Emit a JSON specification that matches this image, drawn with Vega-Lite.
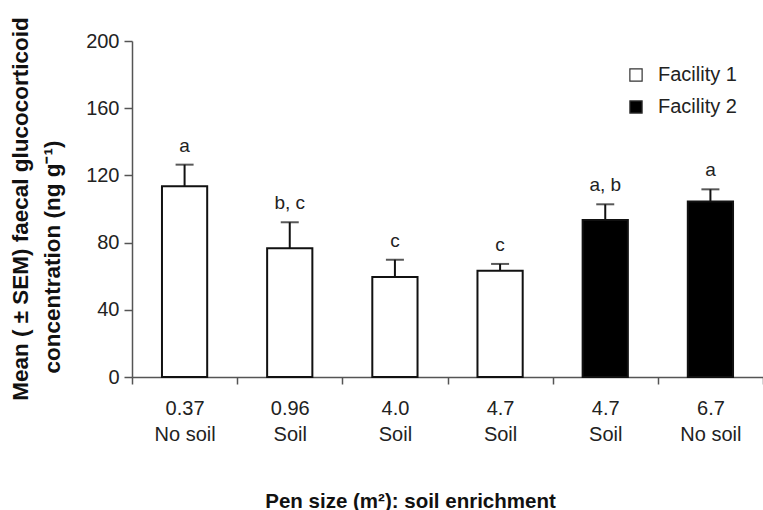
{
  "$schema": "https://vega.github.io/schema/vega-lite/v6.json",
  "autosize": {"type": "none"},
  "padding": {"left": 132, "top": 41, "right": 0, "bottom": 133},
  "width": 631,
  "height": 336,
  "background": "white",
  "config": {
    "font": "Liberation Sans",
    "view": {"stroke": null}
  },
  "title": {
    "text": "Mean ( ± SEM) faecal glucocorticoid",
    "orient": "left",
    "anchor": "middle",
    "frame": "group",
    "fontSize": 22.5,
    "fontWeight": "bold",
    "color": "#111",
    "baseline": "alphabetic",
    "offset": -9
  },
  "data": {
    "values": [
      {"grp": "1|0.37|No soil", "facility": "Facility 1", "mean": 113.5, "upper": 126.4, "letter": "a"},
      {"grp": "2|0.96|Soil", "facility": "Facility 1", "mean": 76.6, "upper": 92.1, "letter": "b, c"},
      {"grp": "3|4.0|Soil", "facility": "Facility 1", "mean": 59.5, "upper": 69.8, "letter": "c"},
      {"grp": "4|4.7|Soil", "facility": "Facility 1", "mean": 63.3, "upper": 67.3, "letter": "c"},
      {"grp": "5|4.7|Soil", "facility": "Facility 2", "mean": 93.5, "upper": 102.8, "letter": "a, b"},
      {"grp": "6|6.7|No soil", "facility": "Facility 2", "mean": 104.4, "upper": 111.7, "letter": "a"}
    ]
  },
  "encoding": {
    "x": {
      "field": "grp",
      "type": "nominal",
      "sort": null,
      "scale": {"paddingInner": 0, "paddingOuter": 0},
      "axis": {
        "labelExpr": "slice(split(datum.label, '|'), 1)",
        "labelAngle": 0,
        "labelFontSize": 20,
        "labelLineHeight": 26,
        "labelColor": "#222",
        "labelPadding": 14,
        "tickBand": "extent",
        "tickSize": 7,
        "tickColor": "#555",
        "tickWidth": 1.5,
        "domainColor": "#555",
        "domainWidth": 1.5,
        "title": "Pen size (m²): soil enrichment",
        "titleFontSize": 20.5,
        "titleFontWeight": "bold",
        "titleColor": "#111",
        "titleX": 278,
        "titleY": 130,
        "titleAlign": "center",
        "titleBaseline": "alphabetic"
      }
    },
    "y": {
      "field": "mean",
      "type": "quantitative",
      "scale": {"domain": [0, 200], "nice": false},
      "axis": {
        "values": [0, 40, 80, 120, 160, 200],
        "grid": false,
        "tickSize": 8,
        "tickColor": "#555",
        "tickWidth": 1.5,
        "domainColor": "#555",
        "domainWidth": 1.5,
        "labelFontSize": 20,
        "labelColor": "#222",
        "labelPadding": 5,
        "title": "concentration (ng g⁻¹)",
        "titleFontSize": 22.5,
        "titleFontWeight": "bold",
        "titleColor": "#111",
        "titleAngle": -90,
        "titleAlign": "left",
        "titleAnchor": null,
        "titleBaseline": "alphabetic",
        "titleX": -73,
        "titleY": 332
      }
    }
  },
  "layer": [
    {
      "mark": {"type": "rule", "color": "#111", "strokeWidth": 2},
      "encoding": {"y2": {"field": "upper"}}
    },
    {
      "mark": {"type": "tick", "color": "#111", "thickness": 2, "size": 18},
      "encoding": {"y": {"field": "upper", "type": "quantitative"}}
    },
    {
      "mark": {"type": "bar", "stroke": "#111", "strokeWidth": 2, "width": {"band": 0.43}},
      "encoding": {
        "fill": {
          "field": "facility",
          "type": "nominal",
          "scale": {"domain": ["Facility 1", "Facility 2"], "range": ["white", "black"]},
          "legend": {
            "title": null,
            "orient": "none",
            "legendX": 494,
            "legendY": 24,
            "padding": 0,
            "symbolType": "square",
            "symbolSize": 150,
            "symbolStrokeColor": "#333",
            "symbolStrokeWidth": 1.2,
            "labelFontSize": 20,
            "labelColor": "#222",
            "labelOffset": 12,
            "rowPadding": 12
          }
        }
      }
    },
    {
      "mark": {"type": "text", "fontSize": 19, "color": "#222", "baseline": "alphabetic", "dy": -13},
      "encoding": {
        "y": {"field": "upper", "type": "quantitative"},
        "text": {"field": "letter"}
      }
    }
  ]
}
